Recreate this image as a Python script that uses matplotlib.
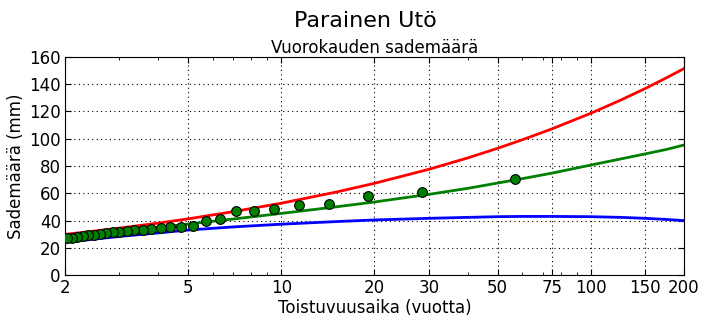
#!/usr/bin/env python3

import matplotlib
matplotlib.use("Agg")
import matplotlib.pyplot as plt
from matplotlib.ticker import FixedLocator, FixedFormatter, LogLocator, NullFormatter

# observed annual maxima, ranked; return period = (n + 1) / rank
n_years = 56
obs_mm = [70.2, 60.7, 58.0, 52.1, 51.2, 48.2, 47.2, 46.7, 40.9, 39.9,
          36.0, 35.2, 35.0, 34.3, 33.8, 33.2, 32.8, 32.3, 31.8, 31.3,
          30.8, 30.2, 29.6, 29.0, 28.3, 27.6, 27.2, 26.9]
obs_T = [(n_years + 1) / rank for rank in range(1, len(obs_mm) + 1)]

# fitted curve and its upper / lower bounds
fit_T = [2, 3, 4, 5, 7, 10, 15, 20, 30, 40, 50, 60, 75, 100, 125, 150, 175, 200]
upper = [29.8, 34.4, 38.1, 41.2, 46.5, 52.7, 60.8, 67.3, 77.6, 85.9, 93.0,
         99.2, 107.3, 118.7, 128.4, 136.9, 144.6, 151.5]
middle = [27.5, 31.9, 35.0, 37.4, 41.1, 45.2, 50.0, 53.6, 59.2, 63.6, 67.5,
          70.7, 74.8, 80.7, 85.2, 88.9, 92.1, 95.4]
lower = [24.0, 28.3, 30.9, 33.0, 35.3, 37.3, 39.2, 40.4, 41.6, 42.3, 42.8,
         43.0, 43.0, 42.8, 42.3, 41.6, 40.8, 39.9]

xticks = [2, 5, 10, 20, 30, 50, 75, 100, 150, 200]

plt.rcParams["font.family"] = "DejaVu Sans"
plt.rcParams["xtick.direction"] = "in"
plt.rcParams["ytick.direction"] = "in"
plt.rcParams["xtick.top"] = True
plt.rcParams["ytick.right"] = True

fig = plt.figure(figsize=(7.1, 3.24), dpi=100)
ax = fig.add_axes([0.0915, 0.1512, 0.8719, 0.6729])

ax.plot(fit_T, upper, color="#ff0000", lw=2)
ax.plot(fit_T, middle, color="#008000", lw=2)
ax.plot(fit_T, lower, color="#0000ff", lw=2)
ax.plot(obs_T, obs_mm, "o", color="#008000", markeredgecolor="black",
        markersize=7, markeredgewidth=0.8, zorder=3)

ax.set_xscale("log")
ax.set_xlim(2, 200)
ax.set_ylim(0, 160)
ax.set_yticks(range(0, 161, 20))
ax.xaxis.set_major_locator(FixedLocator(xticks))
ax.xaxis.set_major_formatter(FixedFormatter([str(t) for t in xticks]))
ax.xaxis.set_minor_locator(LogLocator(base=10, subs=range(2, 10)))
ax.xaxis.set_minor_formatter(NullFormatter())
ax.tick_params(which="major", length=4, width=0.8, labelsize=12, pad=3)
ax.tick_params(which="minor", length=2, width=0.6)

ax.grid(True, which="major", color="black", linestyle=(0, (1, 3)), linewidth=0.8)

ax.set_xlabel("Toistuvuusaika (vuotta)", fontsize=12, labelpad=1)
ax.set_ylabel("Sademäärä (mm)", fontsize=12, labelpad=3)
ax.set_title("Vuorokauden sademäärä", fontsize=12, pad=3)
fig.suptitle("Parainen Utö", fontsize=16, x=0.514, y=0.965)

plt.savefig("out.png", dpi=100)
